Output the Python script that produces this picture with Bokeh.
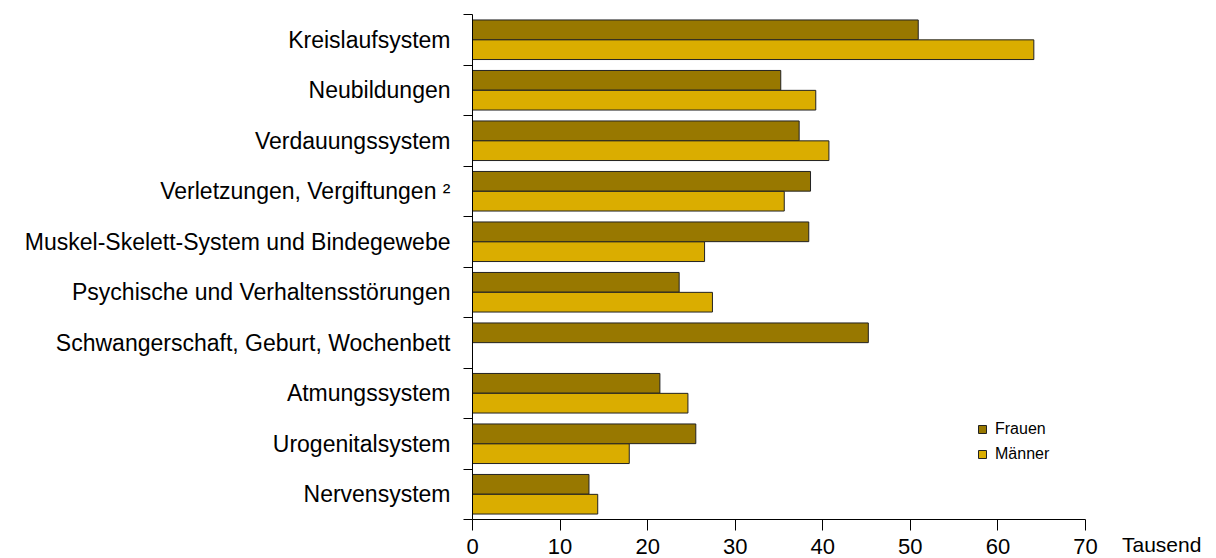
from bokeh.plotting import figure
from bokeh.models import FixedTicker, Legend, LegendItem, Range1d, Div
from bokeh.layouts import row
from bokeh.embed import file_html
from bokeh.resources import INLINE

categories = ["Kreislaufsystem", "Neubildungen", "Verdauungssystem",
              "Verletzungen, Vergiftungen \u00b2", "Muskel-Skelett-System und Bindegewebe",
              "Psychische und Verhaltensst\u00f6rungen", "Schwangerschaft, Geburt, Wochenbett",
              "Atmungssystem", "Urogenitalsystem", "Nervensystem"]
frauen = [50.9, 35.2, 37.3, 38.6, 38.4, 23.6, 45.2, 21.4, 25.5, 13.3]
maenner = [64.1, 39.2, 40.7, 35.6, 26.5, 27.4, 0.0, 24.6, 17.9, 14.3]
x_ticks = [0, 10, 20, 30, 40, 50, 60, 70]
unit_label = "Tausend"

FONT = "Liberation Sans"
C_F = "#987800"
C_M = "#DAAD00"

n = len(categories)
centers = [n - i - 0.5 for i in range(n)]

p = figure(output_backend="svg", toolbar_location=None,
           frame_width=613, frame_height=505,
           min_border_left=472, min_border_top=14, min_border_right=25, min_border_bottom=39,
           x_range=Range1d(0, 70), y_range=Range1d(0, n))
p.outline_line_color = None
p.xgrid.visible = False
p.ygrid.visible = False
p.background_fill_color = "white"
p.border_fill_color = "white"

bh = 0.39
yf = [c + 0.197 for c in centers]
ym = [c - 0.197 for c in centers]
rf = p.hbar(y=yf, right=frauen, left=0, height=bh, fill_color=C_F,
            line_color="#222222", line_width=1)
mi = [i for i in range(n) if maenner[i] > 0]
rm = p.hbar(y=[ym[i] for i in mi], right=[maenner[i] for i in mi], left=0, height=bh,
            fill_color=C_M, line_color="#222222", line_width=1)

# x axis
xa = p.xaxis[0]
xa.ticker = FixedTicker(ticks=x_ticks, minor_ticks=[])
xa.major_tick_out = 11
xa.major_tick_in = 0
xa.axis_line_color = "black"
xa.major_tick_line_color = "black"
xa.major_label_text_font = FONT
xa.major_label_text_font_size = "22px"
xa.major_label_text_color = "black"
xa.major_label_standoff = 8

# y axis
ya = p.yaxis[0]
ya.ticker = FixedTicker(ticks=centers, minor_ticks=list(range(n + 1)))
ya.major_label_overrides = {c: categories[i] for i, c in enumerate(centers)}
ya.major_tick_out = 0
ya.major_tick_in = 0
ya.minor_tick_out = 9
ya.minor_tick_in = 0
ya.minor_tick_line_color = "black"
ya.axis_line_color = "black"
ya.major_label_text_font = FONT
ya.major_label_text_font_size = "23px"
ya.major_label_text_color = "black"
ya.major_label_standoff = 13

legend = Legend(items=[LegendItem(label="Frauen", renderers=[rf]),
                       LegendItem(label="M\u00e4nner", renderers=[rm])],
                location=(505, 55), orientation="vertical")
legend.border_line_color = None
legend.background_fill_alpha = 0
legend.label_text_font = FONT
legend.label_text_font_size = "16px"
legend.label_text_color = "black"
legend.glyph_width = 10
legend.glyph_height = 10
legend.label_height = 21
legend.spacing = 4
legend.padding = 4
legend.margin = 0
legend.label_standoff = 8
p.add_layout(legend)

unit = Div(text=unit_label, width=90, height=24, margin=(533, 0, 0, 12),
           styles={"font-family": FONT, "font-size": "21px", "color": "black",
                   "line-height": "24px", "white-space": "nowrap"})

layout = row(p, unit)
open("out.html", "w").write(file_html(layout, INLINE))
